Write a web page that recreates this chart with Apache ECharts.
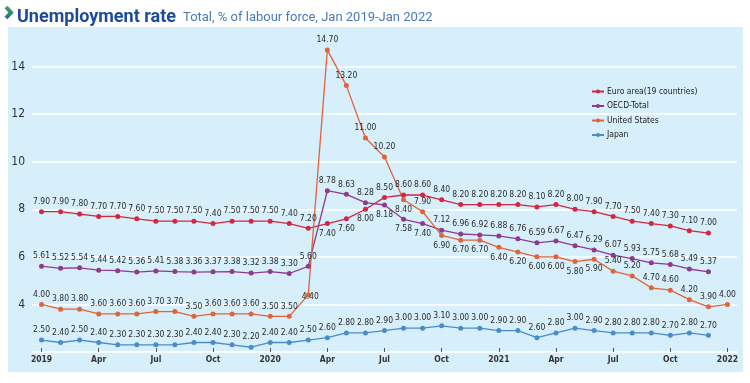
<!DOCTYPE html>
<html>
<head>
<meta charset="utf-8">
<script src="https://cdn.jsdelivr.net/npm/echarts@6/dist/echarts.min.js"></script>
<style>html,body{margin:0;padding:0;background:#fff}#c{width:750px;height:383px}</style>
</head>
<body>
<div id="c"></div>
<script>
var months = [];
var yearsLbl = ['2019','2020','2021','2022'];
var monthNames = ['Jan','Feb','Mar','Apr','May','Jun','Jul','Aug','Sep','Oct','Nov','Dec'];
for (var y = 0; y < 4; y++) {
  for (var m = 0; m < 12; m++) {
    if (y === 3 && m > 0) break;
    months.push(m === 0 ? yearsLbl[y] : monthNames[m]);
  }
}
var euro = [7.90,7.90,7.80,7.70,7.70,7.60,7.50,7.50,7.50,7.40,7.50,7.50,7.50,7.40,7.20,
            7.40,7.60,8.00,8.50,8.60,8.60,8.40,8.20,8.20,8.20,8.20,8.10,8.20,8.00,7.90,
            7.70,7.50,7.40,7.30,7.10,7.00,null];
var oecd = [5.61,5.52,5.54,5.44,5.42,5.36,5.41,5.38,5.36,5.37,5.38,5.32,5.38,5.30,5.60,
            8.78,8.63,8.28,8.18,7.58,7.40,7.12,6.96,6.92,6.88,6.76,6.59,6.67,6.47,6.29,
            6.07,5.93,5.75,5.68,5.49,5.37,null];
var oecdPrinted = {8:'3.36',9:'3.37',10:'3.38',11:'3.32',12:'3.38',13:'3.30'};
var us = [4.00,3.80,3.80,3.60,3.60,3.60,3.70,3.70,3.50,3.60,3.60,3.60,3.50,3.50,4.40,
          14.70,13.20,11.00,10.20,8.40,7.90,6.90,6.70,6.70,6.40,6.20,6.00,6.00,5.80,5.90,
          5.40,5.20,4.70,4.60,4.20,3.90,4.00];
var japan = [2.50,2.40,2.50,2.40,2.30,2.30,2.30,2.30,2.40,2.40,2.30,2.20,2.40,2.40,2.50,
             2.60,2.80,2.80,2.90,3.00,3.00,3.10,3.00,3.00,2.90,2.90,2.60,2.80,3.00,2.90,
             2.80,2.80,2.80,2.70,2.80,2.70,null];
var euroBelow = [15,16,17];
var oecdBelow = [18,19,20];
var usBelow = [19,21,22,23,24,25,26,27,28,29];
var usCenter = [14];

function build(vals, below, printed, center) {
  return vals.map(function (v, i) {
    if (v === null) return null;
    var item = {value: v};
    var lbl = {};
    if (below.indexOf(i) >= 0) lbl.position = 'bottom';
    if (center && center.indexOf(i) >= 0) { lbl.position = 'inside'; lbl.offset = [2, 2]; }
    if (printed && printed[i]) lbl.formatter = printed[i];
    item.label = lbl;
    return item;
  });
}

var labelFont = '"DejaVu Sans Condensed", "Roboto", "Liberation Sans", sans-serif';
function mkSeries(name, vals, color, below, printed, center) {
  return {
    name: name,
    type: 'line',
    data: build(vals, below, printed, center),
    symbol: 'circle',
    symbolSize: 5,
    lineStyle: {width: 1.3, color: color},
    itemStyle: {color: color},
    label: {
      show: true,
      position: 'top',
      distance: 3,
      fontSize: 8.5,
      fontFamily: labelFont,
      color: '#2a2a2a',
      formatter: function (p) { return Number(p.value).toFixed(2); }
    },
    emphasis: {disabled: true},
    animation: false
  };
}

var chart = echarts.init(document.getElementById('c'), null, {renderer: 'canvas'});
chart.setOption({
  backgroundColor: '#ffffff',
  animation: false,
  graphic: [
    {type: 'rect', z: -10, shape: {x: 8, y: 27, width: 735, height: 345}, style: {fill: '#d6effb'}},
    {type: 'polyline', z: 10, shape: {points: [[6, 7], [11, 12.5], [6, 18]]},
     style: {stroke: new echarts.graphic.LinearGradient(0, 0, 0, 1, [{offset: 0, color: '#3bb54a'}, {offset: 1, color: '#1e62b0'}]), lineWidth: 4, fill: null}}
  ],
  title: [
    {text: 'Unemployment rate', left: 12, top: 3,
     textStyle: {fontFamily: 'Roboto', fontWeight: 'bold', fontSize: 18, color: '#1c4b9c'}},
    {text: 'Total, % of labour force, Jan 2019-Jan 2022', left: 178, top: 6,
     textStyle: {fontFamily: 'Roboto', fontWeight: 'normal', fontSize: 13, color: '#4a79ba'}}
  ],
  legend: {
    orient: 'vertical',
    left: 591,
    top: 87,
    padding: 0,
    itemWidth: 12,
    itemHeight: 5,
    itemGap: 5.5,
    textStyle: {fontFamily: labelFont, fontSize: 8.5, color: '#222', padding: [0, 0, 0, -2]},
    data: ['Euro area(19 countries)', 'OECD-Total', 'United States', 'Japan']
  },
  grid: {left: 32, right: 13, top: 19, bottom: 31, containLabel: false},
  xAxis: {
    type: 'category',
    data: months,
    boundaryGap: true,
    axisLine: {show: true, lineStyle: {color: '#ffffff', width: 1.5}},
    axisTick: {show: true, inside: true, length: 4, alignWithLabel: true, interval: 2, lineStyle: {color: '#555'}},
    axisLabel: {interval: 2, margin: 3, fontSize: 8.5, fontFamily: labelFont, fontWeight: 'bold', color: '#333'},
    splitLine: {show: false}
  },
  yAxis: {
    type: 'value',
    min: 2,
    max: 16,
    interval: 2,
    axisLine: {show: false},
    axisTick: {show: false},
    axisLabel: {showMinLabel: false, showMaxLabel: false, margin: 7, fontSize: 12, fontFamily: labelFont, color: '#333'},
    splitLine: {show: true, lineStyle: {color: '#ffffff', width: 1.5}}
  },
  series: [
    mkSeries('Euro area(19 countries)', euro, '#d1283f', euroBelow),
    mkSeries('OECD-Total', oecd, '#8e3b8f', oecdBelow, oecdPrinted),
    mkSeries('United States', us, '#e0643a', usBelow, null, usCenter),
    mkSeries('Japan', japan, '#4a8cca', [])
  ]
});
</script>
</body>
</html>
